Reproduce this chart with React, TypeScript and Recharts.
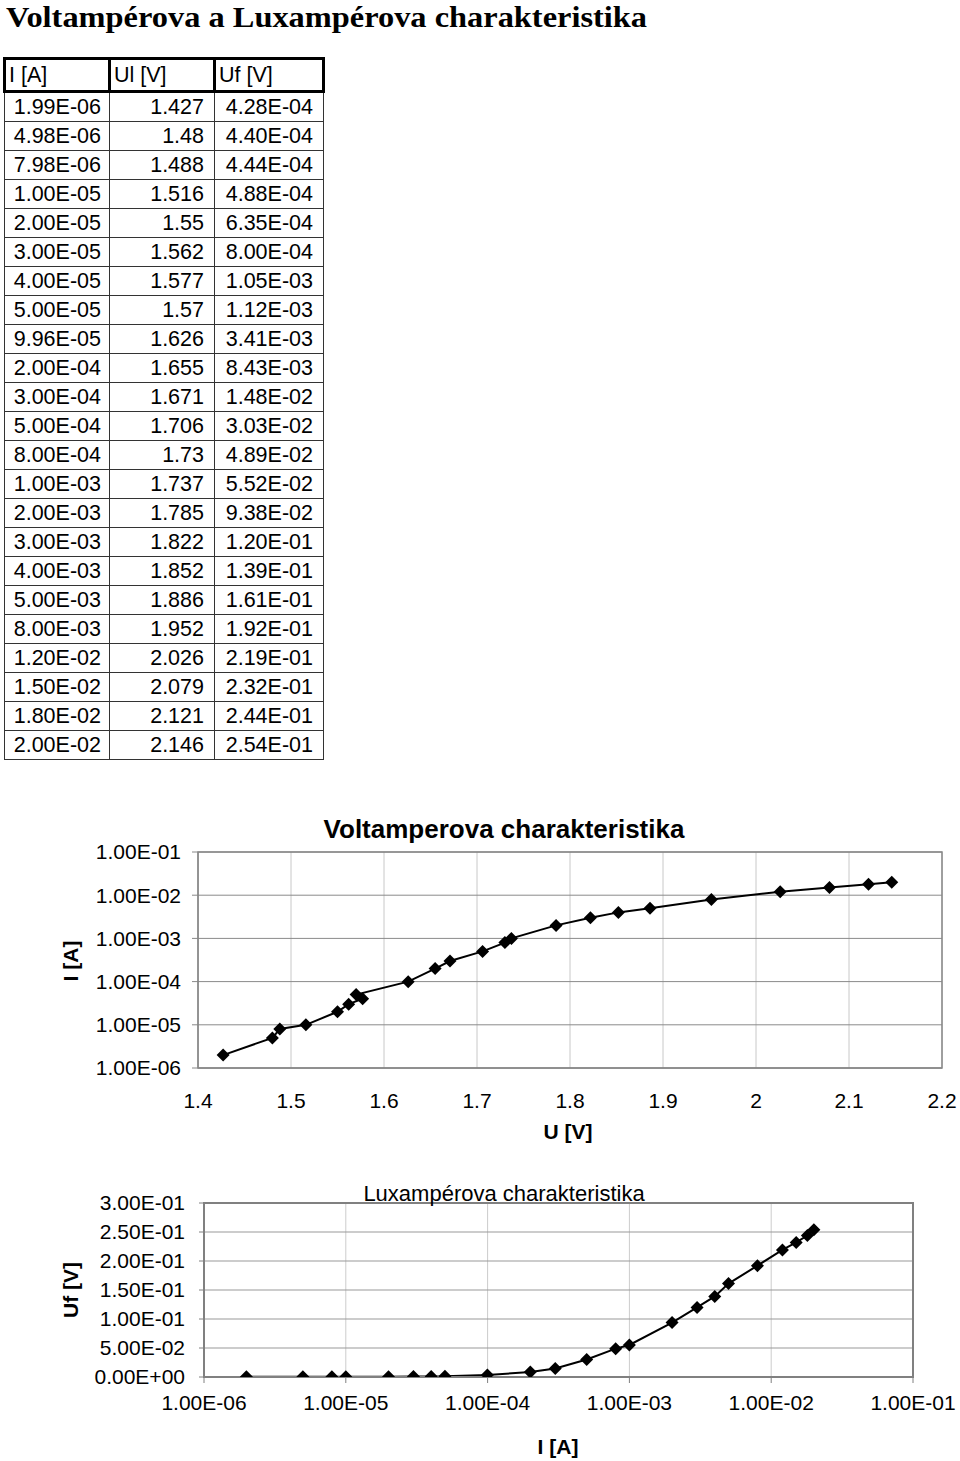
import React from 'react';
import {
  LineChart,
  Line,
  XAxis,
  YAxis,
  CartesianGrid,
  ReferenceArea,
} from 'recharts';

const currentA = [
  1.99e-6, 4.98e-6, 7.98e-6, 1.0e-5, 2.0e-5, 3.0e-5, 4.0e-5, 5.0e-5, 9.96e-5,
  2.0e-4, 3.0e-4, 5.0e-4, 8.0e-4, 1.0e-3, 2.0e-3, 3.0e-3, 4.0e-3, 5.0e-3,
  8.0e-3, 1.2e-2, 1.5e-2, 1.8e-2, 2.0e-2,
];
const voltageUl = [
  1.427, 1.48, 1.488, 1.516, 1.55, 1.562, 1.577, 1.57, 1.626, 1.655, 1.671,
  1.706, 1.73, 1.737, 1.785, 1.822, 1.852, 1.886, 1.952, 2.026, 2.079, 2.121,
  2.146,
];
const voltageUf = [
  4.28e-4, 4.4e-4, 4.44e-4, 4.88e-4, 6.35e-4, 8.0e-4, 1.05e-3, 1.12e-3, 3.41e-3,
  8.43e-3, 1.48e-2, 3.03e-2, 4.89e-2, 5.52e-2, 9.38e-2, 1.2e-1, 1.39e-1,
  1.61e-1, 1.92e-1, 2.19e-1, 2.32e-1, 2.44e-1, 2.54e-1,
];
const tableHeaders = ['I [A]', 'Ul [V]', 'Uf [V]'];

const vaXTicks = [1.4, 1.5, 1.6, 1.7, 1.8, 1.9, 2, 2.1, 2.2];
const vaYTicks = [1e-6, 1e-5, 1e-4, 1e-3, 1e-2, 1e-1];
const laXTicks = [1e-6, 1e-5, 1e-4, 1e-3, 1e-2, 1e-1];
const laYTicks = [0, 0.05, 0.1, 0.15, 0.2, 0.25, 0.3];

const pageTitle = 'Voltampérova a Luxampérova charakteristika';
const vaTitle = 'Voltamperova charakteristika';
const laTitle = 'Luxampérova charakteristika';

const fmtExp = (v: number) => {
  const [m, e] = v.toExponential(2).split('e');
  const n = parseInt(e, 10);
  return m + 'E' + (n < 0 ? '-' : '+') + String(Math.abs(n)).padStart(2, '0');
};

const vaData = currentA.map((i, k) => ({ u: voltageUl[k], i }));
const laData = currentA.map((i, k) => ({ i, uf: voltageUf[k] }));

const Diamond = (props: any) => {
  const { cx, cy } = props;
  if (cx == null || cy == null) return null;
  const r = 6.5;
  return (
    <path
      d={`M${cx},${cy - r}L${cx + r},${cy}L${cx},${cy + r}L${cx - r},${cy}Z`}
      fill="#000"
    />
  );
};

const SANS = '"Liberation Sans", Arial, Helvetica, sans-serif';
const SERIF = '"Liberation Serif", "Times New Roman", serif';
const tickStyle = { fill: '#000', fontSize: 21 };

export default function App() {
  const headCell: React.CSSProperties = {
    border: '3px solid #000',
    textAlign: 'left',
    fontWeight: 'normal',
    height: 30,
    padding: '0 0 0 3px',
  };
  const bodyCell = (pr: number): React.CSSProperties => ({
    border: '1px solid #333',
    textAlign: 'right',
    padding: `0 ${pr}px 0 0`,
    height: 28,
  });
  return (
    <div
      style={{
        position: 'absolute',
        left: 0,
        top: 0,
        width: 960,
        height: 1461,
        fontFamily: SANS,
        background: '#fff',
        color: '#000',
      }}
    >
      <table
        style={{
          position: 'absolute',
          left: 3,
          top: 57,
          borderCollapse: 'collapse',
          tableLayout: 'fixed',
          width: 319,
          fontSize: 21.5,
          fontFamily: SANS,
          lineHeight: '24px',
        }}
      >
        <colgroup>
          <col style={{ width: 105 }} />
          <col style={{ width: 105 }} />
          <col style={{ width: 109 }} />
        </colgroup>
        <thead>
          <tr>
            {tableHeaders.map((h) => (
              <th key={h} style={headCell}>
                {h}
              </th>
            ))}
          </tr>
        </thead>
        <tbody>
          {currentA.map((i, k) => (
            <tr key={k}>
              <td style={bodyCell(8)}>{fmtExp(i)}</td>
              <td style={bodyCell(10)}>{String(voltageUl[k])}</td>
              <td style={bodyCell(10)}>{fmtExp(voltageUf[k])}</td>
            </tr>
          ))}
        </tbody>
      </table>

      {/* Voltamperova charakteristika */}
      <div style={{ position: 'absolute', left: 0, top: 800 }}>
        <LineChart
          width={960}
          height={345}
          data={vaData}
          margin={{ top: 52, right: 18, bottom: 17, left: 0 }}
        >
          <CartesianGrid horizontal={false} stroke="#c8c8c8" />
          <CartesianGrid vertical={false} stroke="#8a8a8a" />
          <XAxis
            type="number"
            dataKey="u"
            domain={[1.4, 2.2]}
            ticks={vaXTicks}
            tickFormatter={(v: number) => String(v)}
            interval={0}
            height={60}
            tickLine={false}
            tickMargin={19}
            axisLine={{ stroke: '#888' }}
            tick={tickStyle}
            allowDataOverflow
          />
          <YAxis
            type="number"
            scale="log"
            domain={[1e-6, 1e-1]}
            ticks={vaYTicks}
            tickFormatter={fmtExp}
            interval={0}
            width={198}
            tickSize={6}
            tickMargin={11}
            tickLine={{ stroke: '#888' }}
            axisLine={{ stroke: '#888' }}
            tick={tickStyle}
            allowDataOverflow
          />
          <ReferenceArea
            x1={1.4}
            x2={2.2}
            y1={1e-6}
            y2={1e-1}
            fill="none"
            stroke="#888"
            strokeWidth={1.5}
            ifOverflow="visible"
          />
          <Line
            dataKey="i"
            stroke="#000"
            strokeWidth={2}
            dot={(p: any) => <Diamond key={p.index} {...p} />}
            isAnimationActive={false}
          />
        </LineChart>
      </div>

      {/* Luxampérova charakteristika */}
      <div style={{ position: 'absolute', left: 0, top: 1170 }}>
        <LineChart
          width={960}
          height={291}
          data={laData}
          margin={{ top: 33, right: 47, bottom: 24, left: 0 }}
        >
          <CartesianGrid horizontal={false} stroke="#cccccc" />
          <CartesianGrid vertical={false} stroke="#999999" />
          <XAxis
            type="number"
            scale="log"
            dataKey="i"
            domain={[1e-6, 1e-1]}
            ticks={laXTicks}
            tickFormatter={fmtExp}
            interval={0}
            height={60}
            tickSize={6}
            tickMargin={12}
            tickLine={{ stroke: '#808080' }}
            axisLine={{ stroke: '#808080', strokeWidth: 2 }}
            tick={tickStyle}
            allowDataOverflow
          />
          <YAxis
            type="number"
            domain={[0, 0.3]}
            ticks={laYTicks}
            tickFormatter={fmtExp}
            interval={0}
            width={204}
            tickSize={5}
            tickMargin={14}
            tickLine={{ stroke: '#808080' }}
            axisLine={{ stroke: '#808080', strokeWidth: 2 }}
            tick={tickStyle}
            allowDataOverflow
          />
          <ReferenceArea
            x1={1e-6}
            x2={1e-1}
            y1={0}
            y2={0.3}
            fill="none"
            stroke="#808080"
            strokeWidth={2}
            ifOverflow="visible"
          />
          <Line
            dataKey="uf"
            stroke="#000"
            strokeWidth={2}
            dot={(p: any) => <Diamond key={p.index} {...p} />}
            isAnimationActive={false}
          />
        </LineChart>
      </div>

      {/* titles and axis titles */}
      <svg
        width={960}
        height={1461}
        style={{ position: 'absolute', left: 0, top: 0, pointerEvents: 'none' }}
        fontFamily={SANS}
      >
        <text
          x={6}
          y={27}
          fontFamily={SERIF}
          fontSize={29}
          fontWeight="bold"
          textLength={641}
          lengthAdjust="spacingAndGlyphs"
        >
          {pageTitle}
        </text>
        <text x={504} y={838} textAnchor="middle" fontSize={26} fontWeight="bold">
          {vaTitle}
        </text>
        <text
          x={0}
          y={0}
          transform="translate(78,961) rotate(-90)"
          textAnchor="middle"
          fontSize={21}
          fontWeight="bold"
        >
          I [A]
        </text>
        <text x={568} y={1139} textAnchor="middle" fontSize={21} fontWeight="bold">
          U [V]
        </text>
        <text x={504} y={1201} textAnchor="middle" fontSize={22}>
          {laTitle}
        </text>
        <text
          x={0}
          y={0}
          transform="translate(78,1290) rotate(-90)"
          textAnchor="middle"
          fontSize={21}
          fontWeight="bold"
        >
          Uf [V]
        </text>
        <text x={558} y={1454} textAnchor="middle" fontSize={21} fontWeight="bold">
          I [A]
        </text>
      </svg>
    </div>
  );
}
